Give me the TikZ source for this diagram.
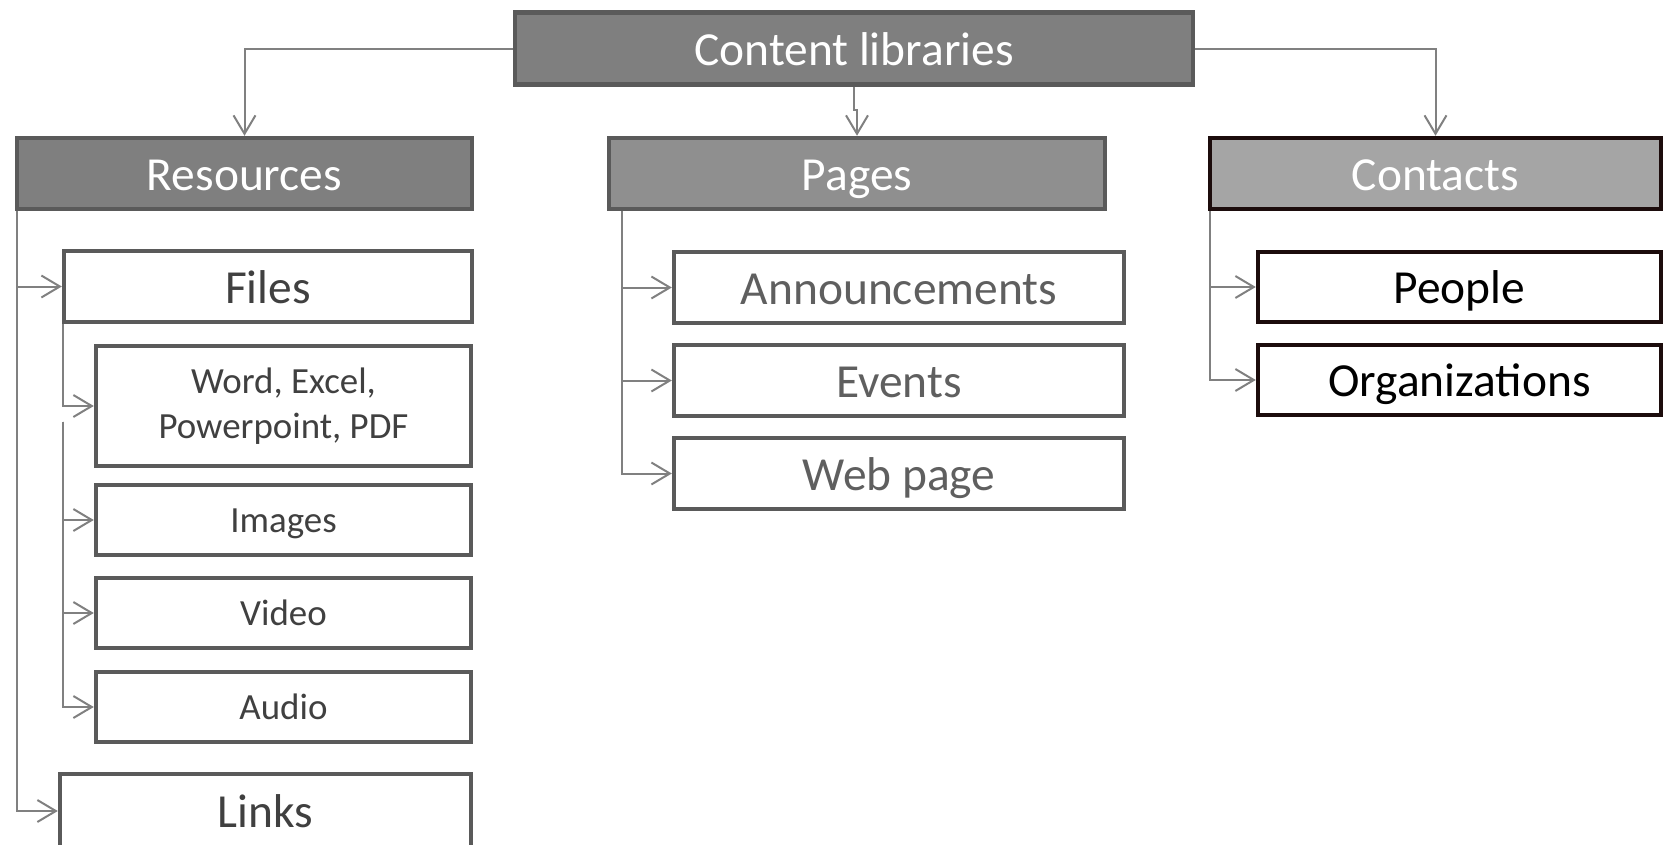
\documentclass[tikz,border=0pt]{standalone}
\usepackage{fontspec}
\setmainfont{Carlito}
\usetikzlibrary{arrows.meta}
\definecolor{headfill}{HTML}{7F7F7F}
\definecolor{pagefill}{HTML}{8F8F8F}
\definecolor{contactfill}{HTML}{A5A5A5}
\definecolor{boxline}{HTML}{5A5A5A}
\definecolor{darkline}{HTML}{1C0C0C}
\definecolor{linkgray}{HTML}{808080}
\definecolor{textdark}{HTML}{404040}
\definecolor{textmid}{HTML}{5F5F5F}

\begin{document}
\begin{tikzpicture}[x=0.02cm,y=-0.02cm,
  box/.style={draw=boxline,line width=0.09cm,fill=white,text=textdark,inner sep=0pt,font=\fontsize{27}{32}\selectfont,text height=24.3pt,text depth=5.4pt,minimum height=1.42cm},
  head/.style={box,fill=headfill,text=white},
  small/.style={box,font=\fontsize{21}{25.5}\selectfont,text height=18.9pt,text depth=4.2pt,minimum width=7.5cm,minimum height=1.4cm},
  twoline/.style={small,align=center,text height={},text depth={},minimum height=2.4cm},
  link/.style={draw=linkgray,line width=0.04cm,-{Straight Barb[length=10.5pt,width=12.5pt]}}]
  \clip (0,0) rectangle (1664,845);

  % top level
  \node[head,minimum width=13.56cm,minimum height=1.44cm] (cl) at (854,48.5) {Content libraries};
  \node[head,minimum width=9.1cm] (res) at (244.5,173.5) {Resources};
  \node[head,fill=pagefill,minimum width=9.92cm] (pg) at (857,173.5) {Pages};
  \node[head,fill=contactfill,draw=darkline,minimum width=9.02cm] (ct) at (1435.5,173.5) {Contacts};

  % resources
  \node[box,minimum width=8.16cm] (files) at (268,286.5) {Files};
  \node[twoline] (word) at (283.5,406) {Word, Excel,\\Powerpoint, PDF};
  \node[small] (img) at (283.5,520) {Images};
  \node[small] (vid) at (283.5,613) {Video};
  \node[small] (aud) at (283.5,707) {Audio};
  \node[box,minimum width=8.22cm,minimum height=1.48cm] (links) at (265.5,811) {Links};

  % pages
  \node[box,text=textmid,minimum width=9cm] (ann) at (899,287.5) {Announcements};
  \node[box,text=textmid,minimum width=9cm] (evt) at (899,380.5) {Events};
  \node[box,text=textmid,minimum width=9cm] (web) at (899,473.5) {Web page};

  % contacts
  \node[box,draw=darkline,text=black,minimum width=8.06cm,minimum height=1.4cm] (ppl) at (1459.5,287) {People};
  \node[box,draw=darkline,text=black,minimum width=8.06cm,minimum height=1.4cm] (org) at (1459.5,380) {Organizations};

  \draw[link] (cl.west) -| (res.north);
  \draw[link] (cl.east) -| (ct.north);
  \draw[link] (cl.south) -- ++(0,23.5) -| (pg.north);

  \draw[link] ([xshift=0.04cm]res.south west) |- (files.west);
  \draw[link] ([xshift=0.04cm]res.south west) |- (links.west);

  \coordinate (fgap) at (63,421.6);
  \draw[link] ([xshift=0.02cm]files.south west) |- (word.west);
  \draw[link] (fgap) |- (img.west);
  \draw[link] (fgap) |- (vid.west);
  \draw[link] (fgap) |- (aud.west);

  \draw[link] ([xshift=0.3cm]pg.south west) |- (ann.west);
  \draw[link] ([xshift=0.3cm]pg.south west) |- (evt.west);
  \draw[link] ([xshift=0.3cm]pg.south west) |- (web.west);

  \draw[link] ([xshift=0.04cm]ct.south west) |- (ppl.west);
  \draw[link] ([xshift=0.04cm]ct.south west) |- (org.west);
\end{tikzpicture}
\end{document}
